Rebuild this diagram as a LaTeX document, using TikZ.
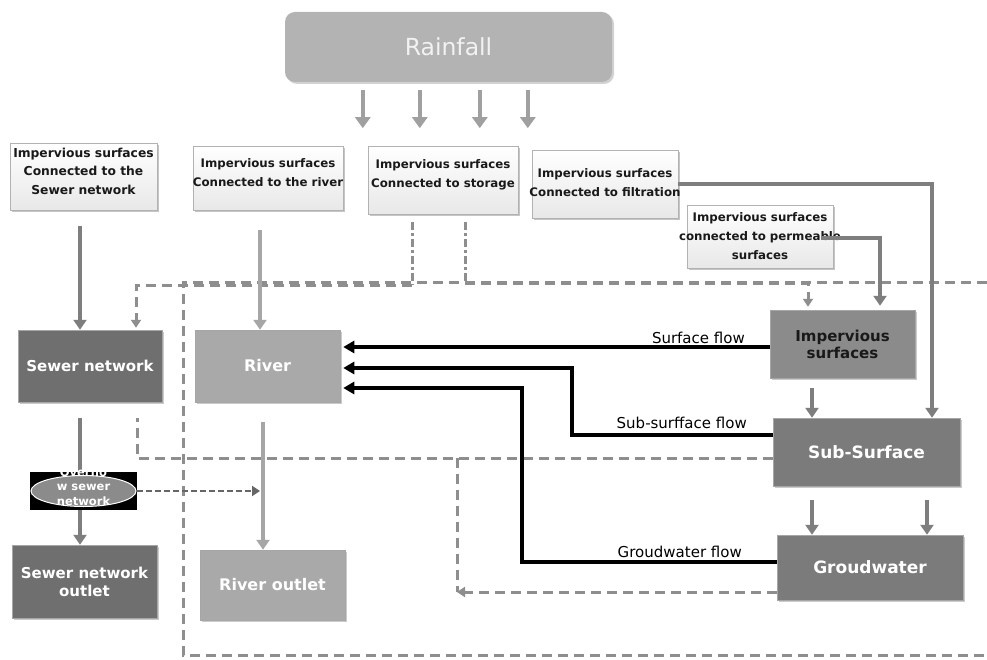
\documentclass[tikz,border=0pt]{standalone}
\usepackage{fontspec}
\setmainfont{DejaVu Sans}
\usetikzlibrary{arrows.meta,shapes.geometric,shadows,calc}
\definecolor{gline}{HTML}{8E8E8E}
\definecolor{garr}{HTML}{7E7E7E}
\definecolor{larr}{HTML}{A6A6A6}
\definecolor{rarr}{HTML}{A0A0A0}
\definecolor{darkbox}{HTML}{6F6F6F}
\definecolor{lightbox}{HTML}{A9A9A9}
\definecolor{medbox}{HTML}{8B8B8B}
\definecolor{subbox}{HTML}{7B7B7B}
\definecolor{rainfill}{HTML}{B3B3B3}
\newcommand\ovline[1]{\makebox[0pt]{#1}}
\begin{document}
\begin{tikzpicture}[x=1pt,y=-1pt,
  tb/.style={draw=black!30, line width=.5pt, top color=white, bottom color=black!9,
    drop shadow={shadow xshift=2pt,shadow yshift=-2pt,fill=black!45},
    inner sep=0pt, align=center, font=\fontsize{11.8}{19}\selectfont\bfseries, text=black!90},
  mb/.style={draw=black!35, line width=.5pt, inner sep=0pt, align=center,
    font=\fontsize{15}{18}\selectfont\bfseries, text=white,
    drop shadow={shadow xshift=2pt,shadow yshift=-2pt,fill=black!40}},
  garrow/.style={draw=garr, line width=4pt, -{Triangle[width=13pt,length=10pt]}},
  larrow/.style={draw=larr, line width=4pt, -{Triangle[width=13pt,length=10pt]}},
  rarrow/.style={draw=rarr, line width=4.5pt, -{Triangle[width=15pt,length=11pt]}},
  barrow/.style={draw=black, line width=3.5pt, -{Triangle[width=12pt,length=11pt]}},
  dline/.style={draw=gline, line width=3pt, dash pattern=on 10pt off 6pt},
  ddot/.style={draw=gline, line width=3pt, dash pattern=on 8pt off 3pt on 3pt off 3pt},
  dtip/.style={-{Triangle[width=10pt,length=8pt]}},
  flab/.style={font=\fontsize{15}{17}\selectfont, text=black, inner sep=1pt}
]
\useasboundingbox[fill=white] (0,0) rectangle (987,660);

% Rainfall
\node[rounded corners=10pt, fill=rainfill, minimum width=327pt, minimum height=70pt,
  font=\fontsize{23.5}{26}\selectfont, text=black!5,
  drop shadow={shadow xshift=2pt,shadow yshift=-2pt,fill=black!35}] (rain) at (448.5,47) {Rainfall};
\foreach \x in {363,420,480,528}
  \draw[rarrow] ($(rain.south west)+(\x-285,8)$) -- ++(0,38);

% top boxes
\node[tb, minimum width=147pt, minimum height=67pt, font=\fontsize{12.3}{18.5}\selectfont\bfseries] (b1) at (83.5,176.5)
  {\ovline{Impervious surfaces}\\Connected to the\\Sewer network\\[-8pt]\mbox{}};
\node[tb, minimum width=150pt, minimum height=64pt] (b2) at (268,178)
  {Impervious surfaces\\\ovline{Connected to the river}\\[-8pt]\mbox{}};
\node[tb, minimum width=150pt, minimum height=68pt] (b3) at (443,180)
  {Impervious surfaces\\\ovline{Connected to storage}\\[-6pt]\mbox{}};
\node[tb, minimum width=146pt, minimum height=68pt] (b4) at (605,184)
  {\mbox{}\\[-12pt]Impervious surfaces\\\ovline{Connected to filtration}};
\node[tb, minimum width=146pt, minimum height=63pt] (b5) at (760,236.5)
  {Impervious surfaces\\\ovline{connected to permeable}\\surfaces};

% main boxes
\node[mb, fill=darkbox, minimum width=144pt, minimum height=72pt] (sewer) at (90,366) {Sewer network};
\node[mb, fill=lightbox, minimum width=145pt, minimum height=72pt, font=\fontsize{16}{19}\selectfont\bfseries] (river) at (267.5,366) {River};
\node[mb, fill=medbox, text=black!90, font=\fontsize{15}{17}\selectfont\bfseries,
  minimum width=145pt, minimum height=68pt] (imp) at (842.5,344) {Impervious\\surfaces};
\node[mb, fill=subbox, minimum width=187pt, minimum height=68pt, font=\fontsize{17}{19}\selectfont\bfseries] (sub) at (866.5,452) {Sub-Surface};
\node[mb, fill=subbox, minimum width=186pt, minimum height=65pt, font=\fontsize{17}{19}\selectfont\bfseries] (gw) at (870,567.5) {Groudwater};
\node[mb, fill=darkbox, minimum width=145pt, minimum height=73pt] (sewout) at (84.5,581.5) {Sewer network\\outlet};
\node[mb, fill=lightbox, minimum width=145pt, minimum height=70pt, font=\fontsize{16}{19}\selectfont\bfseries] (rivout) at (272.5,585) {River outlet};

% dashed lines
\draw[dline] (987,282) -- (183,282) -- (183,655) -- (987,655);
\coordinate (st1) at (412,285);
\coordinate (st2) at (465,283);
\draw[ddot] ($(b3.south)+(-31,8)$) -- (st1);
\draw[ddot] ($(b3.south)+(22,8)$) -- (st2);
\draw[dline, dtip] (st1) -| ($(sewer.north)+(46,-2)$);
\draw[dline, dtip] (st2) -| ($(imp.north)+(-34.5,-3)$);
\coordinate (sd) at (137,418);
\draw[dline] ($(sub.west)+(0,6)$) -| (sd);
\coordinate (gd) at (457,592);
\draw[dline] (457,458) -- (gd);
\draw[dline, dtip] ($(gw.west)+(0,24.5)$) -- (gd);

% grey solid arrows
\draw[garrow, shorten <=16pt] ($(b1.south)+(-3.5,0)$) -- ($(sewer.north)+(-10,0)$);
\draw[larrow, shorten <=20pt] ($(b2.south)+(-8,0)$) -- ($(river.north)+(-7.5,0)$);
\draw[larrow, shorten <=20pt] ($(river.south)+(-4.5,0)$) -- ($(rivout.north)+(-9.5,0)$);
\draw[garrow, shorten <=16pt] ($(sewer.south)+(-10,0)$) -- ($(sewout.north)+(-4.5,0)$);
\draw[garrow] (b4.east) -| ($(sub.north)+(65.5,0)$);
\draw[garrow] ($(b5.east)+(-12,1.5)$) -| ($(imp.north)+(37.5,-4)$);
\draw[garrow, shorten <=10pt] ($(imp.south)+(-30.5,0)$) -- ($(sub.north)+(-54.5,0)$);
\draw[garrow, shorten <=14pt] ($(sub.south)+(-54.5,0)$) -- ($(gw.north)+(-58,0)$);
\draw[garrow, shorten <=14pt] ($(sub.south)+(60.5,0)$) -- ($(gw.north)+(57,0)$);

% overflow
\node[fill=black, minimum width=107pt, minimum height=38pt, inner sep=0pt] (ovbox) at (83.5,491) {};
\node[ellipse, fill=medbox, draw=white, line width=1pt, minimum width=105pt, minimum height=31pt,
  inner sep=0pt, text=white, font=\fontsize{11.5}{14.5}\selectfont\bfseries] (ov) at (ovbox.center)
  {\smash{\begin{tabular}{@{}c@{}}Overflo\\w sewer\\network\end{tabular}}};
\coordinate (ovend) at (260,491);
\draw[dline, draw=black!60, dash pattern=on 6pt off 3pt, line width=2.5pt, dtip] (ovbox.east) -- (ovend);

% black flow arrows
\draw[barrow] ($(imp.west)+(0,3)$) -- ($(river.east)+(3,-19)$);
\node[flab, anchor=south east] (lsf) at (746,345) {Surface flow};
\coordinate (s1) at (572,368);
\draw[barrow] ($(sub.west)+(0,-17)$) -| (s1) -- ($(river.east)+(3,2)$);
\node[flab, anchor=south east] (lssf) at (748,430) {Sub-surfface flow};
\coordinate (g1) at (522,388);
\draw[barrow] ($(gw.west)+(0,-5.5)$) -| (g1) -- ($(river.east)+(3,22)$);
\node[flab, anchor=south east] (lgf) at (743,559) {Groudwater flow};
\end{tikzpicture}
\end{document}
